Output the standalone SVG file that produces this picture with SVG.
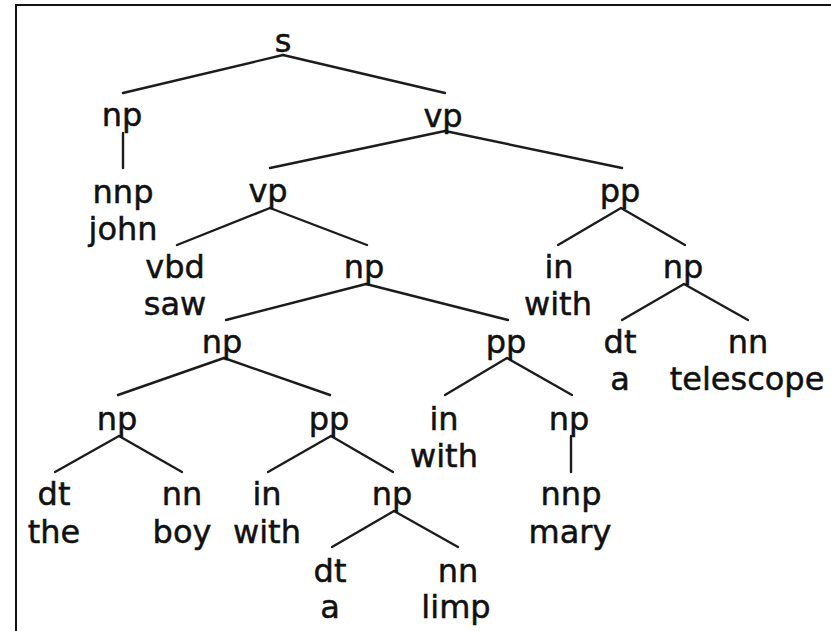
<svg xmlns="http://www.w3.org/2000/svg" width="831" height="631" viewBox="0 0 831 631">
  <style>
    text { font-family: "DejaVu Sans", "Liberation Sans", sans-serif; font-size: 32px; fill: #111; stroke: #111; stroke-width: 0.5; text-anchor: middle; }
    .edge { stroke: #1c1c1c; stroke-width: 2.4; stroke-linecap: round; fill: none; }
    .frame { stroke: #111; stroke-width: 2; fill: none; }
  </style>
  <rect width="831" height="631" fill="#fff"/>
  <!-- frame: top and left edges only -->
  <path class="frame" d="M16 632 V5 H832"/>

  <g id="connectors">
    <!-- s -->
    <line class="edge" x1="283" y1="55" x2="123" y2="93"/>
    <line class="edge" x1="283" y1="55" x2="445" y2="93"/>
    <!-- np -> nnp -->
    <line class="edge" x1="123" y1="133" x2="123" y2="168"/>
    <!-- vp (top) -->
    <line class="edge" x1="445" y1="131" x2="270" y2="168"/>
    <line class="edge" x1="445" y1="131" x2="622" y2="168"/>
    <!-- vp (inner) -->
    <line class="edge" x1="270" y1="208" x2="177" y2="245"/>
    <line class="edge" x1="270" y1="208" x2="367" y2="245"/>
    <!-- pp (right) -->
    <line class="edge" x1="621" y1="208" x2="558" y2="245"/>
    <line class="edge" x1="621" y1="208" x2="685" y2="245"/>
    <!-- np (object) -->
    <line class="edge" x1="366" y1="284" x2="226" y2="320"/>
    <line class="edge" x1="366" y1="284" x2="508" y2="320"/>
    <!-- np (a telescope) -->
    <line class="edge" x1="684" y1="284" x2="622" y2="320"/>
    <line class="edge" x1="684" y1="284" x2="748" y2="320"/>
    <!-- np (the boy with a limp) -->
    <line class="edge" x1="224" y1="358" x2="118" y2="395"/>
    <line class="edge" x1="224" y1="358" x2="330" y2="395"/>
    <!-- pp (with mary) -->
    <line class="edge" x1="507" y1="358" x2="445" y2="395"/>
    <line class="edge" x1="507" y1="358" x2="572" y2="395"/>
    <!-- np (the boy) -->
    <line class="edge" x1="119" y1="436" x2="55" y2="472"/>
    <line class="edge" x1="119" y1="436" x2="182" y2="472"/>
    <!-- pp (with a limp) -->
    <line class="edge" x1="331" y1="436" x2="268" y2="472"/>
    <line class="edge" x1="331" y1="436" x2="393" y2="472"/>
    <!-- np -> nnp mary -->
    <line class="edge" x1="571" y1="436" x2="571" y2="472"/>
    <!-- np (a limp) -->
    <line class="edge" x1="394" y1="511" x2="332" y2="547"/>
    <line class="edge" x1="394" y1="511" x2="458" y2="547"/>
  </g>

  <g id="n-s"><text x="283" y="52">s</text></g>
  <g id="n-np-subj"><text x="122" y="126">np</text></g>
  <g id="n-vp-top"><text x="443" y="127">vp</text></g>
  <g id="n-nnp-john"><text x="123" y="203">nnp</text><text x="123" y="240">john</text></g>
  <g id="n-vp-inner"><text x="268" y="202">vp</text></g>
  <g id="n-pp-telescope"><text x="620" y="202">pp</text></g>
  <g id="n-vbd-saw"><text x="175" y="278">vbd</text><text x="175" y="315">saw</text></g>
  <g id="n-np-obj"><text x="364" y="278">np</text></g>
  <g id="n-in-with-1"><text x="559" y="278">in</text><text x="558" y="315">with</text></g>
  <g id="n-np-telescope"><text x="683" y="278">np</text></g>
  <g id="n-np-boylimp"><text x="222" y="353">np</text></g>
  <g id="n-pp-mary"><text x="506" y="353">pp</text></g>
  <g id="n-dt-a-1"><text x="620" y="353">dt</text><text x="620" y="390">a</text></g>
  <g id="n-nn-telescope"><text x="748" y="353">nn</text><text x="747" y="390">telescope</text></g>
  <g id="n-np-boy"><text x="117" y="430">np</text></g>
  <g id="n-pp-limp"><text x="329" y="430">pp</text></g>
  <g id="n-in-with-2"><text x="444" y="430">in</text><text x="444" y="467">with</text></g>
  <g id="n-np-mary"><text x="569" y="430">np</text></g>
  <g id="n-dt-the"><text x="54" y="505">dt</text><text x="54" y="543">the</text></g>
  <g id="n-nn-boy"><text x="182" y="505">nn</text><text x="182" y="543">boy</text></g>
  <g id="n-in-with-3"><text x="267" y="505">in</text><text x="267" y="543">with</text></g>
  <g id="n-np-limp"><text x="392" y="505">np</text></g>
  <g id="n-nnp-mary"><text x="571" y="505">nnp</text><text x="570" y="543">mary</text></g>
  <g id="n-dt-a-2"><text x="330" y="582">dt</text><text x="330" y="618">a</text></g>
  <g id="n-nn-limp"><text x="458" y="582">nn</text><text x="456" y="618">limp</text></g>
</svg>
